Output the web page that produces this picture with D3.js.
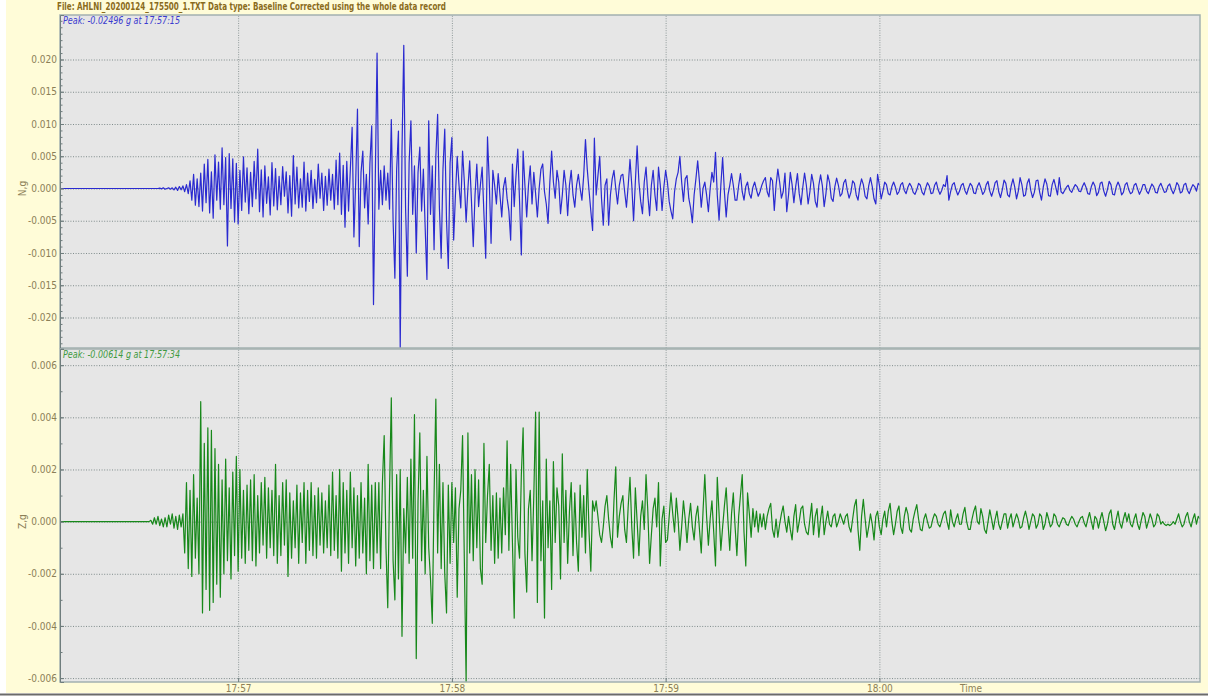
<!DOCTYPE html>
<html>
<head>
<meta charset="utf-8">
<script src="https://cdn.jsdelivr.net/npm/d3@7/dist/d3.min.js"></script>
<style>
  body { margin: 0; background: #fff; }
  svg text { font-family: "Liberation Sans Narrow", "Arial Narrow", "DejaVu Sans Condensed", "Liberation Sans", sans-serif; }
</style>
</head>
<body>
<svg id="graph" width="1208" height="696"></svg>
<script>
/*globals d3*/
// record runs 17:56:10 -> 18:01:30, one value every half second
// values below are in 0.001 g, one row = 10 s
var recordStart = "17:56:10",
    recordEnd = "18:01:30",
    stepSec = 0.5;

var northValues = [
  0,0,0,0,0,0,0,0,0,0,0,0,0,0,0,0,0,0,0,0,
  0,0,0,0,0,0,0,0,0,0,0,0,0,0,0,0,0,0,0,0,
  0,0,0,0,0,0,0,0,0,0,0,0,0,0,0,0,0.05,-0.05,0.1,-0.1,
  0,0.1,-0.1,0.1,-0.2,0.2,-0.3,0.3,-0.2,0.4,-0.5,0.6,-0.8,1.2,-1.8,2.2,-2.6,1.5,-2.8,2.4,
  -3.5,3.8,-2.2,4.5,-3.8,2.6,-4.6,5.2,-1.8,4.1,-3.2,6.3,-2.5,4.8,-8.9,5.4,-3.1,4.6,-5.2,3.9,
  -5.5,2.8,-3.4,4.9,-2.1,3.2,-3.9,2.5,-2.8,4.2,-1.6,6.1,-3.6,2.9,-4.4,3.5,-2.3,1.8,-4.1,4.0,
  -2.7,3.1,-3.3,1.9,-2.5,3.4,-1.2,2.6,-3.8,2.0,-4.3,5.1,-2.4,3.3,-3.0,1.5,-2.9,4.1,-3.5,2.4,
  -2.0,2.8,-3.1,1.4,-2.2,3.8,-1.5,2.4,-3.4,1.9,-2.6,3.0,-1.8,2.2,-3.2,4.4,-2.5,5.5,-4.0,3.6,
  -6.0,4.2,-3.5,3.0,9.5,-7.5,1.0,12.3,-9.0,2.5,5.8,-3.0,2.2,-5.5,4.0,9.7,-18.0,1.5,21.0,-3.2,
  2.8,-2.5,3.5,-1.8,2.4,-3.2,10.7,-5.0,-13.9,3.0,8.9,-24.96,6.0,22.2,-3.0,-13.6,4.0,10.5,-4.0,3.5,
  -10.0,2.5,6.4,-3.5,3.0,-6.0,-14.1,10.5,-4.0,3.5,-9.5,5.0,11.5,-3.0,-10.8,3.0,9.2,-5.0,-12.4,4.0,
  7.9,-8.0,-1.0,5.0,0.5,-3.0,5.8,1.0,-5.2,0.0,4.3,-2.0,-9.0,-1.0,3.8,-2.8,0.5,3.3,-4.0,-10.8,
  8.0,1.0,-8.5,2.8,0.5,-2.4,2.3,-1.0,-4.4,0.2,1.7,-1.5,-3.5,-8.0,3.8,-2.8,2.0,6.1,-2.0,-10.3,
  5.8,0.5,-4.4,0.5,3.5,-2.4,2.5,-0.8,-4.4,0.0,3.0,3.8,-0.5,-2.4,-5.4,1.0,5.8,1.0,-1.5,2.8,
  1.0,-3.9,-1.0,2.8,0.5,-4.2,0.5,2.8,-1.0,-2.9,0.5,2.2,0.0,-1.8,2.0,7.6,3.0,-0.3,-3.5,-6.5,
  7.8,-1.0,2.0,5.0,-1.5,-5.7,0.5,1.5,-5.7,-1.0,1.5,2.8,0.0,-2.4,0.5,2.0,2.2,-0.5,-2.9,0.5,
  4.5,0.5,-5.0,1.0,6.6,1.0,-2.0,-3.9,1.0,3.3,-1.0,-4.2,0.5,2.8,-1.0,-3.4,3.3,0.5,-3.4,0.2,
  2.8,1.0,-2.0,-3.5,-4.7,-0.5,1.5,2.5,5.0,1.0,-2.0,1.5,2.0,-1.5,-3.0,-5.3,-1.0,1.5,4.3,1.0,
  -2.9,0.0,1.0,-1.0,-3.6,0.0,2.5,1.0,5.6,-1.0,-4.9,0.5,4.8,-0.5,-4.4,-1.0,0.5,2.3,0.5,-1.8,
  -1.8,0.5,2.3,-0.5,-1.8,0.3,1.0,-0.8,-1.5,0.2,1.0,-0.2,-1.2,-0.5,0.5,1.2,1.7,-0.5,-1.3,1.7,
  1.2,-3.4,0.5,3.0,1.0,-1.5,-0.5,2.4,-3.6,-1.0,2.5,0.6,-2.2,0.3,2.3,-0.8,-2.5,0.2,2.4,0.5,
  -2.4,-0.5,2.2,0.8,-2.0,-2.9,0.5,2.1,0.4,-2.8,-0.8,2.1,1.0,-1.5,-2.0,0.3,1.6,0.5,-1.2,-0.8,
  0.9,1.4,-0.3,-1.5,-0.6,1.2,0.8,-1.0,-1.8,0.2,1.5,0.6,-1.2,-1.6,0.4,1.7,0.3,-1.6,-2.4,2.2,
  0.5,-1.6,-0.4,1.0,0.6,-0.8,-1.0,0.3,1.0,0.2,-0.9,-0.5,0.6,0.9,-0.3,-0.8,0.2,0.8,0.3,-0.6,
  -0.9,-0.2,0.8,0.5,-0.6,-1.0,0.1,0.9,0.4,-0.8,-0.7,0.5,1.0,-0.2,-0.9,-0.3,0.6,0.3,2.0,-1.8,
  -0.5,0.6,0.9,-0.2,-1.0,-0.4,0.5,0.8,-0.3,-0.9,0.0,0.8,0.4,-0.7,-0.8,0.3,0.9,0.1,-0.9,-0.5,
  0.6,1.1,-0.4,-1.2,-0.3,0.9,1.2,-0.5,-1.4,-0.2,1.3,0.8,-1.0,-1.3,0.4,1.5,0.2,-1.6,-0.4,1.7,
  0.6,-1.2,-1.0,0.8,1.5,-0.3,-1.4,-0.6,1.2,1.3,-0.6,-1.8,0.2,1.5,0.7,-1.1,-1.2,0.6,1.4,0.2,
  -1.0,1.7,-0.5,-0.8,-0.3,0.2,0.5,-0.3,-0.6,0.1,0.6,0.3,-0.4,-0.5,0.3,0.9,0.2,-0.8,-0.9,0.3,
  1.0,0.4,-1.1,-0.6,0.8,1.0,-0.4,-1.2,-0.2,1.1,0.6,-0.9,-1.0,0.3,1.0,0.3,-1.0,-0.6,0.6,0.9,
  -0.2,-0.8,-0.6,0.5,0.8,-0.1,-0.9,-0.3,0.6,0.6,-0.4,-0.8,0.0,0.7,0.3,-0.6,-0.7,0.3,0.8,0.1,
  -0.6,-0.5,0.4,0.7,-0.2,-0.8,-0.1,0.9,0.5,-0.7,-0.5,0.6,0.8,-0.3,-0.8,0.0,0.6,0.3,-0.4,0.8,0.5
];

var vertValues = [
  0,0,0,0,0,0,0,0,0,0,0,0,0,0,0,0,0,0,0,0,
  0,0,0,0,0,0,0,0,0,0,0,0,0,0,0,0,0,0,0,0,
  0,0,0,0,0,0,0,0,0,0,0,0.05,-0.1,0.15,-0.1,0.2,-0.15,0.1,-0.2,0.15,
  -0.2,0.25,-0.1,0.3,-0.25,0.2,-0.3,0.25,-0.2,0.3,-1.2,1.5,-1.8,1.2,-2.1,1.8,-1.4,0.9,-2.0,4.6,
  -3.5,3.0,-2.6,3.6,-3.4,3.5,-3.1,2.8,-2.4,2.2,-2.9,1.6,-2.0,2.4,-1.5,1.3,-2.2,1.9,-1.3,2.5,
  -1.9,2.0,-1.4,1.2,-1.6,1.4,-1.1,1.6,-1.5,1.8,-1.7,1.0,-1.2,1.5,-0.9,1.7,-1.4,1.3,-1.0,1.2,
  -1.3,2.2,-1.6,1.0,-1.3,1.5,-0.9,1.6,-2.1,1.1,-1.4,0.8,-1.0,1.4,-1.6,1.1,-0.8,1.5,-1.6,1.2,
  -1.1,1.5,-1.3,1.0,-1.4,1.3,-0.9,1.1,-1.2,0.8,-1.0,1.4,-1.3,1.9,-1.1,1.0,-1.4,2.0,-1.9,1.5,
  -1.2,1.2,-1.6,1.9,-1.0,1.3,-1.7,1.0,-1.4,1.5,-1.2,0.9,-2.0,2.2,-1.5,1.4,-1.8,1.5,-1.2,1.5,
  -1.8,1.5,3.3,-1.0,-3.3,1.2,4.75,-1.5,-3.0,1.8,-2.2,2.0,-4.4,0.5,-1.2,1.7,-1.6,2.4,-1.4,4.1,
  -5.25,0.8,3.4,-1.5,1.2,-2.0,2.5,-1.0,-2.2,-3.9,1.0,4.7,-1.2,2.2,-1.8,1.5,-2.0,-3.5,1.4,-1.6,
  1.5,-0.8,1.3,-2.9,0.5,1.2,3.3,-1.5,-6.14,3.4,-1.2,1.8,-1.5,2.0,-1.0,1.6,-1.8,-2.4,3.0,-0.8,
  1.0,2.2,-1.1,1.0,-1.6,1.1,-1.4,0.9,-1.2,1.3,-0.5,3.1,-1.1,2.2,-0.8,-3.7,2.0,-0.6,-1.4,1.8,
  3.6,-1.2,-2.7,0.5,1.2,-1.5,1.0,4.2,-3.1,4.2,-1.5,0.8,-3.7,2.4,-1.0,0.8,-2.6,2.3,-0.8,1.3,
  0.6,-2.2,2.6,-0.8,1.2,-1.6,0.4,1.5,-1.3,1.1,-0.8,-1.9,1.4,-0.6,1.0,-1.2,2.0,-0.4,-1.9,0.8,
  0.4,0.8,0.2,-0.5,-0.8,-0.2,0.6,1.0,0.1,-0.6,-1.0,0.8,2.1,-0.6,0.2,0.7,1.0,-0.3,-0.8,0.6,
  1.7,-0.2,-1.4,1.3,0.0,-1.3,0.2,0.8,-0.3,1.8,0.4,-1.6,-0.5,0.5,0.9,-0.2,1.5,-1.7,0.1,0.6,
  -0.8,-0.7,0.2,1.1,0.3,-0.4,0.9,0.1,-1.1,-0.2,0.8,0.1,-0.8,0.1,0.7,-0.2,-0.7,0.2,0.6,-0.3,
  -1.2,0.4,1.8,0.2,-0.9,0.1,0.8,-0.4,-1.7,1.7,0.3,-1.1,-0.2,0.6,1.3,0.0,-1.1,0.3,1.1,-0.2,
  -1.3,0.2,1.0,1.8,-0.4,-1.7,1.1,0.3,-0.6,0.5,-0.2,0.4,-0.4,0.3,-0.2,0.3,-0.3,0.2,0.5,0.7,
  -0.3,-0.6,0.1,-0.6,-0.1,0.3,0.6,0.0,-0.4,0.2,-0.3,-0.7,0.2,0.65,-0.4,0.0,0.5,0.6,-0.1,-0.4,
  -0.5,0.1,0.7,-0.5,0.2,0.5,-0.6,0.1,0.6,-0.5,0.0,0.4,-0.1,-0.2,0.2,0.3,-0.2,0.0,0.3,0.1,
  -0.1,0.2,0.3,-0.2,-0.4,0.1,0.6,0.85,-0.3,-1.1,0.2,0.85,0.1,-0.6,-0.2,0.3,-0.1,-0.7,0.2,0.4,
  -0.2,-0.5,0.1,0.4,-0.2,0.4,0.7,0.0,-0.5,-0.1,0.4,0.6,-0.2,-0.45,0.2,0.55,0.3,-0.3,-0.4,0.1,
  0.4,0.65,0.1,-0.3,-0.35,0.1,0.3,0.0,-0.25,-0.2,0.1,0.3,0.2,-0.1,-0.2,0.05,0.3,0.4,0.0,-0.3,
  0.45,0.0,-0.2,0.1,0.3,-0.1,-0.1,0.3,0.55,0.0,-0.3,-0.3,0.1,0.4,0.6,0.0,-0.1,0.5,0.2,-0.3,
  -0.45,0.0,0.45,0.1,-0.3,0.1,0.4,-0.1,-0.3,0.0,0.3,0.3,-0.25,0.1,0.3,-0.2,0.05,0.3,0.1,-0.25,
  -0.2,0.15,0.4,0.1,-0.3,0.0,0.3,0.2,-0.25,-0.1,0.3,0.2,-0.3,-0.1,0.35,0.1,-0.2,-0.1,0.3,0.2,
  -0.1,-0.2,0.0,0.15,0.1,-0.1,-0.15,0.05,0.2,0.1,-0.1,-0.2,0.0,0.15,0.2,-0.05,-0.2,0.1,0.35,0.0,
  -0.3,0.2,0.1,-0.25,0.1,0.35,0.0,-0.35,-0.1,0.3,0.45,-0.1,-0.3,0.1,0.4,-0.05,-0.25,0.1,0.35,0.0,
  0.3,-0.1,-0.2,0.1,0.3,-0.1,-0.3,0.05,0.35,0.2,-0.25,0.0,0.3,0.1,-0.2,-0.1,0.3,0.2,-0.1,0.0,
  -0.1,-0.15,-0.1,-0.15,-0.1,0.0,-0.1,0.1,0.3,0.0,-0.2,-0.1,0.2,0.35,0.0,-0.2,0.1,0.3,-0.1,0.2,0.1
];

var northTicks = [-0.020, -0.015, -0.010, -0.005, 0.000, 0.005, 0.010, 0.015, 0.020];
var vertTicks = [-0.006, -0.004, -0.002, 0.000, 0.002, 0.004, 0.006];
var timeTicks = ["17:57", "17:58", "17:59", "18:00"];
var channelNames = ["N,g", "Z,g"];
var peakLabels = ["Peak: -0.02496 g at 17:57:15", "Peak: -0.00614 g at 17:57:34"];
var titleText = "File: AHLNI_20200124_175500_1.TXT  Data type: Baseline Corrected using the whole data record";

var svg = d3.select("svg"),
    width = 1208, height = 696,
    left = 60, right = 1200;

var parseSec = d3.timeParse("%H:%M:%S"),
    parseMin = d3.timeParse("%H:%M");
var t0 = parseSec(recordStart), t1 = parseSec(recordEnd);

var x = d3.scaleTime().domain([t0, t1]).range([left, right]);

function toPoints(vals) {
  return vals.map(function(v, i) {
    return { t: new Date(+t0 + i * stepSec * 1000), v: v / 1000 };
  });
}

var panels = [
  { top: 15, bottom: 348, lo: -0.02473, hi: 0.0269, data: toPoints(northValues), ticks: northTicks,
    minor: 52, color: "#2a2ad0", peakColor: "#3b3bcf", name: channelNames[0], peak: peakLabels[0] },
  { top: 349, bottom: 682, lo: -0.00615, hi: 0.00662, data: toPoints(vertValues), ticks: vertTicks,
    minor: 13, color: "#17881a", peakColor: "#3f9a3f", name: channelNames[1], peak: peakLabels[1] }
];

// page backgrounds
svg.append("rect").attr("width", width).attr("height", height).attr("fill", "#fff");
svg.append("rect").attr("x", 6).attr("y", 0).attr("width", width - 6).attr("height", 693).attr("fill", "#fffcd8");
svg.append("line").attr("x1", 0).attr("x2", width).attr("y1", 694.5).attr("y2", 694.5)
  .attr("stroke", "#6b6b6b").attr("stroke-width", 2);

var labelColor = "#8c7f57";

svg.append("text")
  .attr("x", 57).attr("y", 10)
  .attr("font-size", 11).attr("font-weight", "bold")
  .attr("fill", "#8a6b1c")
  .attr("textLength", 389).attr("lengthAdjust", "spacingAndGlyphs")
  .text(titleText);

panels.forEach(function(p, idx) {
  var y = d3.scaleLinear().domain([p.lo, p.hi]).range([p.bottom, p.top]);
  var g = svg.append("g").attr("class", "panel");

  g.append("rect")
    .attr("x", left).attr("y", p.top)
    .attr("width", right - left).attr("height", p.bottom - p.top)
    .attr("fill", "#e6e6e6");

  // horizontal dotted grid
  g.append("g")
    .attr("transform", "translate(" + left + ",0)")
    .call(d3.axisLeft(y).tickValues(p.ticks).tickSize(-(right - left)).tickFormat(""))
    .call(function(a) {
      a.select(".domain").remove();
      a.selectAll("line").attr("stroke", "#7f8b8b").attr("stroke-dasharray", "1,1.6");
    });

  // vertical dotted grid on the minutes
  g.append("g")
    .attr("transform", "translate(0," + p.bottom + ")")
    .call(d3.axisBottom(x).tickValues(timeTicks.map(parseMin)).tickSize(-(p.bottom - p.top)).tickFormat(""))
    .call(function(a) {
      a.select(".domain").remove();
      a.selectAll("line").attr("stroke", "#8f9999").attr("stroke-dasharray", "1,1.4");
    });

  var clipId = "clip" + idx;
  svg.append("clipPath").attr("id", clipId)
    .append("rect").attr("x", left).attr("y", p.top).attr("width", right - left).attr("height", p.bottom - p.top);

  var line = d3.line()
    .x(function(d) { return x(d.t); })
    .y(function(d) { return y(d.v); });

  g.append("path")
    .datum(p.data)
    .attr("clip-path", "url(#" + clipId + ")")
    .attr("fill", "none")
    .attr("stroke", p.color)
    .attr("stroke-width", 1.2)
    .attr("stroke-linejoin", "round")
    .attr("d", line);

  // panel frame
  g.append("rect")
    .attr("x", left).attr("y", p.top)
    .attr("width", right - left).attr("height", p.bottom - p.top)
    .attr("fill", "none").attr("stroke", "#a2b0b0").attr("stroke-width", 1.5);

  // minor ticks
  g.append("g")
    .attr("transform", "translate(" + left + ",0)")
    .call(d3.axisLeft(y).ticks(p.minor).tickSize(-2.5).tickFormat(""))
    .call(function(a) {
      a.select(".domain").remove();
      a.selectAll("line").attr("stroke", "#6f7d7d");
    });

  // major ticks + labels
  g.append("g")
    .attr("transform", "translate(" + left + ",0)")
    .call(d3.axisLeft(y).tickValues(p.ticks).tickSize(-4).tickPadding(3)
      .tickFormat(function(d) { return d.toFixed(3); }))
    .call(function(a) {
      a.select(".domain").attr("stroke", "#6f7d7d");
      a.selectAll("line").attr("stroke", "#6f7d7d");
      a.selectAll("text").attr("fill", labelColor).attr("font-size", 10);
    });

  g.append("text")
    .attr("transform", "translate(26," + y(0) + ") rotate(-90)")
    .attr("text-anchor", "middle")
    .attr("font-size", 10)
    .attr("fill", labelColor)
    .text(p.name);

  g.append("text")
    .attr("x", 63).attr("y", p.top + 9)
    .attr("font-size", 10.5).attr("font-style", "italic")
    .attr("fill", p.peakColor)
    .attr("textLength", 117).attr("lengthAdjust", "spacingAndGlyphs")
    .text(p.peak);
});

// time axis under the lower panel
svg.append("g")
  .attr("transform", "translate(0," + panels[1].bottom + ")")
  .call(d3.axisBottom(x).tickValues(timeTicks.map(parseMin)).tickSize(-4).tickPadding(3)
    .tickFormat(d3.timeFormat("%H:%M")))
  .call(function(a) {
    a.select(".domain").remove();
    a.selectAll("line").attr("stroke", "#6f7d7d");
    a.selectAll("text").attr("fill", labelColor).attr("font-size", 10);
  });

svg.append("text")
  .attr("x", 971).attr("y", 692)
  .attr("text-anchor", "middle")
  .attr("font-size", 10)
  .attr("fill", labelColor)
  .text("Time");
</script>
</body>
</html>
